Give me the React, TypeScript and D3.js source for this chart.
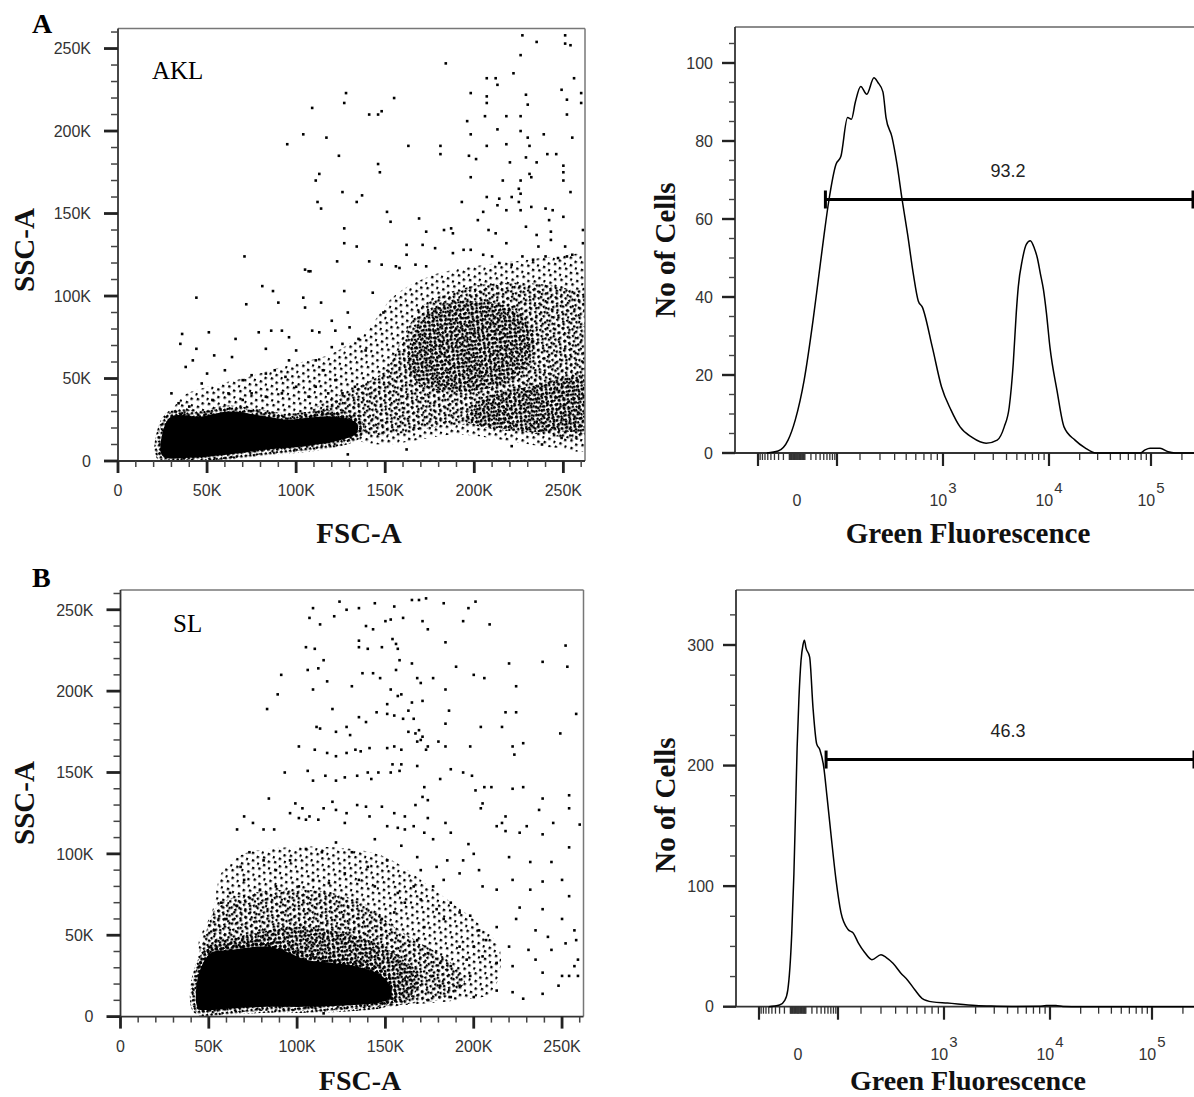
import React from "react";
import * as d3 from "d3";

type Pt = [number, number];

const W = 1194;
const H = 1097;

// ---------- scatter axes (values in K) ----------
const SCATTER_MAX = 262.144;
const SCATTER_MAJOR = [0, 50, 100, 150, 200, 250];
const SCATTER_LABELS = ["0", "50K", "100K", "150K", "200K", "250K"];
const SCATTER_MINOR = d3.range(10, 261, 10).filter((v) => v % 50 !== 0);

// ---------- panel A scatter (AKL): FSC-A K, SSC-A K ----------
const AKL_POINTS: Pt[] = [
  [227,258],[251,258],[235,254],[251,253],[254,252],[226,246],[184,241],[222,235],[207,232],[212,232],[213,228],[256,232],
  [155,220],[128,223],[127,217],[109,214],[141,210],[146,210],[148,212],[198,223],[207,221],[207,217],[229,222],[230,216],
  [249,225],[252,219],[260,223],[260,217],[252,210],[196,206],[206,209],[218,209],[226,209],[213,201],[226,200],[230,196],
  [239,198],[255,196],[198,198],[207,191],[218,192],[231,191],[181,191],[181,186],[163,191],[104,198],[95,192],[117,196],
  [124,185],[197,185],[201,183],[220,181],[229,184],[235,181],[241,186],[246,186],[250,179],[250,175],[250,170],[146,180],
  [147,175],[113,174],[111,170],[198,172],[216,170],[226,170],[231,174],[232,172],[254,163],[126,163],[137,161],[134,157],
  [112,157],[114,153],[207,160],[214,159],[221,160],[225,165],[226,162],[225,157],[193,157],[205,151],[213,155],[218,152],
  [226,152],[232,154],[240,153],[244,152],[242,146],[250,148],[151,151],[153,145],[169,147],[183,140],[187,141],[188,138],
  [173,139],[178,129],[202,146],[208,140],[212,138],[218,132],[229,142],[235,137],[236,130],[243,139],[243,134],[251,130],
  [255,125],[261,140],[261,132],[127,141],[127,132],[134,130],[141,121],[123,121],[108,115],[71,124],[156,118],[162,131],
  [162,125],[167,119],[171,131],[188,126],[194,128],[198,128],[205,125],[210,124],[214,120],[221,119],[227,124],[233,122],
  [240,124],[247,123],[252,124],
  [44,99],[81,106],[87,103],[90,96],[72,95],[105,116],[107,115],[104,99],[105,93],[114,96],[127,103],[129,90],[36,77],
  [35,71],[51,78],[44,68],[54,64],[64,63],[66,74],[79,78],[86,79],[92,79],[96,75],[83,68],[100,67],[109,79],[113,78],
  [122,79],[120,85],[38,57],[42,61],[47,47],[50,53],[60,55],[70,49],[75,52],[83,53],[88,55],[94,51],[96,61],[111,61],
  [115,55],[120,69],[126,71],[130,81],[135,74],[139,67],[30,41],[34,35],[40,33],[53,37],[62,41],[70,37],[75,41],[83,39],
  [92,41],[100,45],[107,39],[111,45],[118,41],[122,49],[126,41],[133,45],[129,4],[162,7],[221,9],[238,10],[249,14],
  [148,119],[158,117],[173,118],[149,90],[143,102]
];
const AKL_CORE: Pt[] = [[25,3],[25,17],[30,27],[47,27],[62,30],[83,27],[96,25],[105,26],[120,27],[134,23],[134,17],[126,13],[105,9],[83,7],[62,4],[40,2]];
const AKL_LIGHT: Pt[][] = [[[28,20],[35,38],[50,45],[70,50],[95,58],[120,65],[140,80],[155,100],[175,112],[200,118],[230,122],[262,126],[266,126],[266,8],[245,8],[220,12],[190,16],[165,12],[150,10],[135,12],[100,25],[60,28],[35,25]]];
const AKL_MEDIUM: Pt[][] = [[[100,22],[115,35],[135,45],[150,55],[160,75],[172,95],[195,105],[225,108],[250,105],[266,100],[266,15],[245,15],[225,18],[200,22],[175,20],[155,16],[135,16],[115,18]]];
const AKL_DENSE: Pt[][] = [
  [[163,55],[166,78],[178,93],[200,97],[222,92],[233,78],[230,58],[214,46],[192,42],[172,45]],
  [[195,25],[205,38],[230,45],[266,50],[266,20],[245,18],[220,18]]
];

// ---------- panel B scatter (SL) ----------
const SL_POINTS: Pt[] = [
  [109,251],[124,255],[128,250],[135,251],[144,254],[155,252],[165,256],[169,256],[173,257],[183,254],[197,251],[201,255],
  [107,245],[113,241],[121,246],[139,240],[143,238],[150,243],[153,244],[160,245],[171,243],[174,238],[194,243],[209,241],
  [105,227],[110,226],[115,219],[106,213],[112,214],[135,231],[140,226],[135,227],[148,227],[154,232],[156,229],[157,226],
  [158,219],[165,217],[184,230],[190,215],[200,210],[206,208],[220,217],[239,218],[253,215],[252,228],[91,210],[89,198],
  [83,189],[109,201],[117,206],[131,203],[137,211],[143,211],[147,208],[153,201],[156,213],[157,197],[159,198],[163,188],
  [165,193],[168,208],[170,205],[171,194],[177,208],[184,201],[186,188],[184,180],[204,178],[216,178],[218,187],[224,187],
  [224,203],[249,174],[258,186],[120,189],[111,178],[113,177],[122,175],[128,178],[130,173],[135,184],[139,181],[145,187],
  [151,192],[151,186],[155,185],[160,183],[163,175],[167,174],[168,169],[171,172],[174,166],[166,183],[169,176],[101,166],
  [110,164],[117,162],[122,160],[128,162],[133,164],[136,163],[141,165],[151,165],[155,166],[159,164],[170,170],[173,164],
  [180,169],[187,152],[194,150],[199,148],[206,141],[222,166],[223,161],[228,168],[184,166],[198,166],[93,150],[106,151],
  [109,145],[116,148],[122,145],[127,147],[134,148],[140,150],[142,146],[146,150],[153,150],[158,151],[154,155],[159,155],
  [168,154],[172,141],[171,135],[174,133],[181,146],[201,139],[210,141],[222,140],[228,141],[239,134],[254,136],[84,134],
  [99,131],[103,128],[107,123],[115,128],[120,132],[122,127],[128,125],[134,130],[139,129],[141,123],[148,129],[155,125],
  [161,123],[167,130],[174,122],[184,119],[205,131],[204,128],[218,123],[237,127],[245,119],[254,128],[260,118],[70,123],
  [75,119],[81,115],[87,115],[96,125],[101,122],[105,121],[112,121],[127,119],[151,117],[157,116],[166,117],[216,119],
  [230,117],
  [213,117],[218,114],[226,113],[239,112],[254,104],[220,98],[232,95],[244,95],[200,100],[203,90],[197,106],[205,80],
  [213,78],[222,84],[232,78],[239,83],[250,84],[254,74],[226,67],[239,66],[250,60],[257,53],[258,47],[235,53],[242,49],
  [224,60],[213,55],[220,43],[231,41],[244,41],[252,45],[213,33],[222,31],[235,35],[239,27],[250,25],[257,31],[213,16],
  [222,15],[228,11],[239,14],[248,19],[254,25],[259,35],[259,25],[187,70],[192,64],[198,62],[203,53],[207,47],[200,43],
  [192,43],[205,37],[196,35],[187,31],[198,25],[192,19],[200,12],[187,12],[181,19],[177,25],[181,33],[174,39],[168,47],
  [172,55],[183,60],[179,66],[170,72],[161,70],[155,64],[148,60],[157,76],[166,80],[177,80],[183,84],[192,88],[194,96],
  [185,96],[179,92],[170,90],[168,98],[177,109],[187,113],[172,113],[161,115],[159,105],[151,96],[144,109],[140,92],
  [131,101],[122,107],[114,101],[105,103],[96,96],[88,90],[81,96],[73,101],[66,115],[68,92],[70,84],[79,78],[88,80],
  [101,80],[109,84],[118,82],[127,88],[135,84],[144,80],[62,76],[57,70],[53,53],[60,60],[66,68],[115,2]
];
const SL_CORE: Pt[] = [[44,5],[44,25],[51,39],[62,41],[83,43],[96,39],[105,35],[120,33],[133,31],[148,25],[153,18],[153,12],[148,9],[130,7],[105,6],[83,6],[62,5],[50,4]];
const SL_LIGHT: Pt[][] = [[[45,40],[52,65],[58,90],[70,100],[95,104],[120,104],[145,100],[160,92],[175,80],[190,68],[205,55],[215,40],[210,15],[190,10],[160,7],[150,6]]];
const SL_MEDIUM: Pt[][] = [[[45,28],[48,50],[55,68],[70,75],[95,78],[120,76],[140,68],[155,55],[170,45],[185,35],[195,22],[185,12],[165,8],[150,7]]];
const SL_DENSE: Pt[][] = [[[45,22],[50,44],[70,50],[100,55],[125,52],[145,45],[160,35],[170,25],[165,12],[153,8]]];

// ---------- histograms: [green fluorescence, no of cells] ----------
const HIST_AKL: Pt[] = [
  [-63,0],[-31,0.5],[-12,3.3],[-2,8.5],[9,18.7],[24,34],[35,44],[51,56],[67,65],[95,74],[113,76],[139,86],[156,85.6],
  [175,90],[203,94],[230,92],[266,96.2],[288,95],[318,92.6],[338,86],[380,81],[419,74],[462,65],[514,56],[572,46],
  [629,39],[679,37.4],[821,27],[972,17],[1194,11],[1456,6.7],[1894,4],[2572,2.5],[3268,3.3],[3806,6.7],[4241,11.8],
  [4627,23],[4938,36],[5156,42.6],[5623,49.5],[6132,53.5],[6687,54.4],[7291,52.5],[7781,50],[8302,46],[8859,42],
  [9452,36],[10229,27],[11986,16],[14042,6.7],[18004,3.3],[22578,1.3],[28947,0],[78200,0],[87560,0.8],[98030,1.2],
  [122410,1.2],[146510,0.3],[171520,0],[262144,0]
];
const HIST_SL: Pt[] = [
  [-60,0],[-30,1.4],[-19,5.5],[-14,14],[-8,60],[-5,110],[-3,160],[-1,215],[1,255],[3.5,287],[6,300],[8,304],[10,298],
  [16,290],[22,248],[29.5,218],[37,213],[47,199],[57,174],[70,144],[91,105],[110,78],[137,64],[160,61],[185,53],[216,45],
  [250,39],[300,43],[331,41],[380,36],[441,28],[504,22],[578,14],[662,7],[805,4],[1078,3],[2010,1],[2806,0.5],[4334,0.2],
  [7950,0.3],[9240,1],[11450,1],[13420,0.2],[20160,0],[262144,0]
];
const GATE_AKL = { from: 55, level: 65, label: "93.2" };
const GATE_SL = { from: 54, level: 205, label: "46.3" };

const HIST_A_MAJOR = [0, 20, 40, 60, 80, 100];
const HIST_A_MINOR = d3.range(5, 106, 5).filter((v) => v % 20 !== 0);
const HIST_B_MAJOR = [0, 100, 200, 300];
const HIST_B_MINOR = d3.range(25, 326, 25).filter((v) => v % 100 !== 0);

const FL_LABELS = [
  { v: 0, base: "0", exp: "" },
  { v: 1e3, base: "10", exp: "3" },
  { v: 1e4, base: "10", exp: "4" },
  { v: 1e5, base: "10", exp: "5" },
];
const FL_LONG = [-100, 100, 1e3, 1e4, 1e5];
const FL_SHORT = [
  ...d3.range(-90, 91, 10),
  ...d3.range(-9, 10, 1),
  ...d3.range(200, 1000, 100),
  ...d3.range(2000, 10000, 1000),
  ...d3.range(20000, 100000, 10000),
  200000,
];

// logicle-like display: symlog transform, calibrated piecewise onto the axis
const symT = (v: number) => Math.sign(v) * Math.log1p(Math.abs(v) / 30);
const FL_ANCHOR_VALUES = [-281, -100, 0, 100, 200, 1000, 1e4, 1e5, 262144];
const FL_ANCHOR_OFFSETS = [0, 23, 62, 102, 125, 208, 314, 416, 459];
function makeFl(left: number) {
  const lin = d3
    .scaleLinear()
    .domain(FL_ANCHOR_VALUES.map(symT))
    .range(FL_ANCHOR_OFFSETS.map((o) => left + o));
  return (v: number) => lin(symT(v));
}

const SANS = "'Liberation Sans', Arial, Helvetica, sans-serif";
const SERIF = "'Liberation Serif', 'Times New Roman', Times, serif";

// dot textures used to render density levels (style only)
const TEX = [
  { tile: 12, rot: 23, dots: [[1, 1], [7, 3], [4, 8], [10, 9]] },
  { tile: 10, rot: -31, dots: [[2, 0], [7, 2], [0, 6], [5, 7]] },
  { tile: 9, rot: 57, dots: [[0, 0], [4, 1], [7, 4], [2, 5], [6, 7]] },
];

function ScatterPanel(props: {
  id: string;
  left: number;
  right: number;
  bottom: number;
  top: number;
  points: Pt[];
  core: Pt[];
  light: Pt[][];
  medium: Pt[][];
  dense: Pt[][];
}) {
  const { id, left, right, bottom, top, points, core, light, medium, dense } = props;
  const x = d3.scaleLinear().domain([0, SCATTER_MAX]).range([left, right]);
  const y = d3.scaleLinear().domain([0, SCATTER_MAX]).range([bottom, top]);
  const shape = d3
    .line<Pt>()
    .x((d) => x(d[0]))
    .y((d) => y(d[1]))
    .curve(d3.curveCatmullRomClosed.alpha(0.5));
  const s = 2.6;
  const levels = [light, medium, dense];
  return (
    <g>
      <defs>
        <clipPath id={`${id}-clip`}>
          <rect x={left} y={top} width={right - left} height={bottom - top} />
        </clipPath>
        {TEX.map((t, i) => (
          <pattern
            key={i}
            id={`${id}-p${i}`}
            width={t.tile}
            height={t.tile}
            patternUnits="userSpaceOnUse"
            patternTransform={`rotate(${t.rot})`}
          >
            {t.dots.map((d, j) => (
              <rect key={j} x={d[0]} y={d[1]} width={2.4} height={2.4} fill="#000" />
            ))}
          </pattern>
        ))}
      </defs>
      <g clipPath={`url(#${id}-clip)`}>
        {levels.map((lv, li) =>
          lv.map((p, i) => <path key={`${li}-${i}`} d={shape(p) || ""} fill={`url(#${id}-p${li})`} />)
        )}
        <path d={shape(core) || ""} fill="none" stroke={`url(#${id}-p2)`} strokeWidth={12} />
        <path d={shape(core) || ""} fill="none" stroke={`url(#${id}-p1)`} strokeWidth={8} />
        <path d={shape(core) || ""} fill="#000" />
        {points.map((p, i) => (
          <rect key={i} x={x(p[0]) - s / 2} y={y(p[1]) - s / 2} width={s} height={s} fill="#000" />
        ))}
      </g>
      {/* frame */}
      <line x1={left} x2={right} y1={top} y2={top} stroke="#777" strokeWidth={1.5} />
      <line x1={right} x2={right} y1={top} y2={bottom} stroke="#777" strokeWidth={1.5} />
      <line x1={left} x2={left} y1={top} y2={bottom} stroke="#333" strokeWidth={1.8} />
      <line x1={left} x2={right} y1={bottom} y2={bottom} stroke="#333" strokeWidth={1.8} />
      {/* y ticks */}
      {SCATTER_MINOR.map((v) => (
        <line key={`ym${v}`} x1={left - 7} x2={left} y1={y(v)} y2={y(v)} stroke="#444" strokeWidth={1.5} />
      ))}
      {SCATTER_MAJOR.map((v, i) => (
        <g key={`yM${v}`}>
          <line x1={left - 14} x2={left} y1={y(v)} y2={y(v)} stroke="#222" strokeWidth={2.8} />
          <text x={left - 27} y={y(v)} dy="0.36em" textAnchor="end" fontFamily={SANS} fontSize={16} fill="#333">
            {SCATTER_LABELS[i]}
          </text>
        </g>
      ))}
      {/* x ticks */}
      {SCATTER_MINOR.map((v) => (
        <line key={`xm${v}`} x1={x(v)} x2={x(v)} y1={bottom} y2={bottom + 6} stroke="#444" strokeWidth={1.5} />
      ))}
      {SCATTER_MAJOR.map((v, i) => (
        <g key={`xM${v}`}>
          <line x1={x(v)} x2={x(v)} y1={bottom} y2={bottom + 12} stroke="#222" strokeWidth={2.8} />
          <text x={x(v)} y={bottom + 35} textAnchor="middle" fontFamily={SANS} fontSize={16} fill="#333">
            {SCATTER_LABELS[i]}
          </text>
        </g>
      ))}
    </g>
  );
}

function HistPanel(props: {
  left: number;
  top: number;
  bottom: number;
  yTopValue: number;
  data: Pt[];
  yMax: number;
  major: number[];
  minor: number[];
  gate: { from: number; level: number; label: string };
}) {
  const { left, top, bottom, yTopValue, data, yMax, major, minor, gate } = props;
  const fx = makeFl(left);
  const y = d3.scaleLinear().domain([0, yMax]).range([bottom, yTopValue]);
  const line = d3
    .line<Pt>()
    .x((d) => fx(d[0]))
    .y((d) => y(d[1]))
    .curve(d3.curveMonotoneX);
  const right = fx(262144);
  const gy = y(gate.level);
  const gx0 = fx(gate.from);
  return (
    <g>
      <line x1={left} x2={W + 5} y1={top} y2={top} stroke="#666" strokeWidth={1.5} />
      <line x1={left} x2={left} y1={top} y2={bottom} stroke="#333" strokeWidth={1.8} />
      <line x1={left} x2={W + 5} y1={bottom} y2={bottom} stroke="#333" strokeWidth={1.8} />
      {minor.map((v) => (
        <line key={`m${v}`} x1={left - 6} x2={left} y1={y(v)} y2={y(v)} stroke="#444" strokeWidth={1.4} />
      ))}
      {major.map((v) => (
        <g key={`M${v}`}>
          <line x1={left - 13} x2={left} y1={y(v)} y2={y(v)} stroke="#222" strokeWidth={2.4} />
          <text x={left - 22} y={y(v)} dy="0.36em" textAnchor="end" fontFamily={SANS} fontSize={16} fill="#333">
            {v}
          </text>
        </g>
      ))}
      {FL_SHORT.map((v, i) => (
        <line key={`s${i}`} x1={fx(v)} x2={fx(v)} y1={bottom} y2={bottom + 7} stroke="#333" strokeWidth={1.3} />
      ))}
      {FL_LONG.map((v) => (
        <line key={`L${v}`} x1={fx(v)} x2={fx(v)} y1={bottom} y2={bottom + 13} stroke="#222" strokeWidth={2.2} />
      ))}
      {FL_LABELS.map((l) => (
        <text key={l.v} x={fx(l.v)} y={bottom + 53} textAnchor="middle" fontFamily={SANS} fontSize={16} fill="#333">
          {l.base}
          {l.exp ? (
            <tspan dy={-13} dx={1} fontSize={15}>
              {l.exp}
            </tspan>
          ) : null}
        </text>
      ))}
      <path d={line(data) || ""} fill="none" stroke="#000" strokeWidth={1.5} />
      <line x1={gx0} x2={right} y1={gy} y2={gy} stroke="#000" strokeWidth={3} />
      <line x1={gx0} x2={gx0} y1={gy - 9} y2={gy + 9} stroke="#000" strokeWidth={3} />
      <line x1={right - 1} x2={right - 1} y1={gy - 9} y2={gy + 9} stroke="#000" strokeWidth={3} />
      <text x={1008} y={gy - 23} textAnchor="middle" fontFamily={SANS} fontSize={18} fill="#222">
        {gate.label}
      </text>
    </g>
  );
}

function Title(props: { x: number; y: number; text: string; rotate?: boolean; size?: number }) {
  const { x, y, text, rotate, size = 29 } = props;
  return (
    <text
      transform={`translate(${x},${y})${rotate ? " rotate(-90)" : ""}`}
      dy="0.35em"
      textAnchor="middle"
      fontFamily={SERIF}
      fontWeight="bold"
      fontSize={size}
      fill="#111"
    >
      {text}
    </text>
  );
}

export default function App() {
  return (
    <svg
      width={W}
      height={H}
      viewBox={`0 0 ${W} ${H}`}
      style={{ position: "absolute", left: 0, top: 0, background: "#fff" }}
    >
      <rect width={W} height={H} fill="#fff" />
      <text x={32} y={33} fontFamily={SERIF} fontWeight="bold" fontSize={28} fill="#000">A</text>
      <text x={32} y={587} fontFamily={SERIF} fontWeight="bold" fontSize={28} fill="#000">B</text>

      <ScatterPanel
        id="akl"
        left={118}
        right={585}
        bottom={461}
        top={28.5}
        points={AKL_POINTS}
        core={AKL_CORE}
        light={AKL_LIGHT}
        medium={AKL_MEDIUM}
        dense={AKL_DENSE}
      />
      <text x={152} y={79} fontFamily={SERIF} fontSize={25} fill="#000">AKL</text>
      <Title x={24} y={250} text="SSC-A" rotate />
      <Title x={359} y={533} text="FSC-A" />

      <ScatterPanel
        id="sl"
        left={120.5}
        right={583.5}
        bottom={1016.6}
        top={590}
        points={SL_POINTS}
        core={SL_CORE}
        light={SL_LIGHT}
        medium={SL_MEDIUM}
        dense={SL_DENSE}
      />
      <text x={173} y={632} fontFamily={SERIF} fontSize={25} fill="#000">SL</text>
      <Title x={24} y={803} text="SSC-A" rotate />
      <Title x={360} y={1080} text="FSC-A" size={28} />

      <HistPanel
        left={735}
        top={27}
        bottom={453}
        yTopValue={63}
        yMax={100}
        data={HIST_AKL}
        major={HIST_A_MAJOR}
        minor={HIST_A_MINOR}
        gate={GATE_AKL}
      />
      <Title x={665} y={250} text="No of Cells" rotate />
      <Title x={968} y={533} text="Green Fluorescence" />

      <HistPanel
        left={736}
        top={590}
        bottom={1006.7}
        yTopValue={645}
        yMax={300}
        data={HIST_SL}
        major={HIST_B_MAJOR}
        minor={HIST_B_MINOR}
        gate={GATE_SL}
      />
      <Title x={665} y={805} text="No of Cells" rotate />
      <Title x={968} y={1080} text="Green Fluorescence" size={28} />
    </svg>
  );
}
